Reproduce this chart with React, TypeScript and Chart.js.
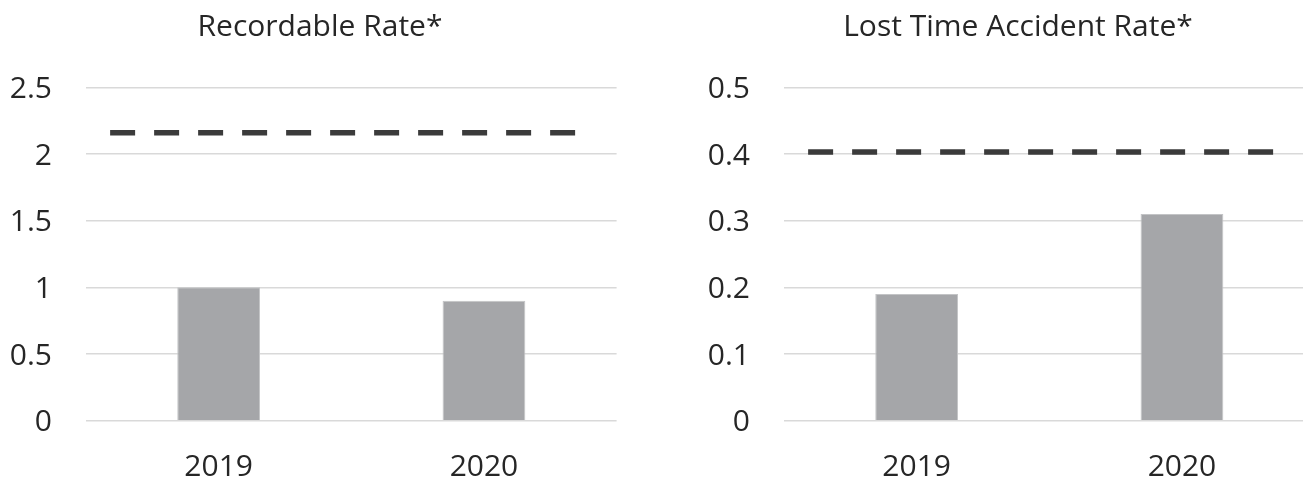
import React, { useEffect, useRef } from "react";
import { Chart, registerables } from "chart.js";

Chart.register(...registerables);

// ---- Data ----
const years = ["2019", "2020"];
const recordableRate = [1.0, 0.9];
const recordableTarget = [2.16, 2.16];
const recordableTicks = [0, 0.5, 1, 1.5, 2, 2.5];
const lostTimeRate = [0.19, 0.31];
const lostTimeTarget = [0.403, 0.403];
const lostTimeTicks = [0, 0.1, 0.2, 0.3, 0.4, 0.5];
const targetSpan = [0, 1]; // start and end of the target line across the plot

const FONT = { family: "'Open Sans', sans-serif", size: 30, weight: "normal" as const };
const TEXT = "#262626";
const CW = 640;
const CH = 490;
const PLOT_BOTTOM = 420.7;
const PLOT_LEFT = 86;
const RIGHT_GAP = 23.4;

type Props = {
  title: string;
  values: number[];
  target: number[];
  ticks: number[];
};

function RateChart({ title, values, target, ticks }: Props) {
  const ref = useRef<HTMLCanvasElement | null>(null);
  useEffect(() => {
    if (!ref.current) return;
    const min = ticks[0];
    const max = ticks[ticks.length - 1];
    const step = ticks[1] - ticks[0];
    const chart = new Chart(ref.current, {
      type: "bar",
      data: {
        labels: years,
        datasets: [
          {
            type: "line",
            data: targetSpan.map((x, i) => ({ x, y: target[i] })),
            xAxisID: "x2",
            yAxisID: "y",
            borderColor: "#3b3b3b",
            borderWidth: 5.5,
            borderDash: [25, 19],
            borderCapStyle: "butt",
            pointRadius: 0,
            fill: false,
            order: 0,
          } as any,
          {
            type: "bar",
            data: values,
            xAxisID: "x",
            yAxisID: "y",
            grouped: false,
            backgroundColor: "#a5a6a9",
            borderColor: "#c3c4c6",
            borderWidth: 1,
            barPercentage: 0.312,
            categoryPercentage: 1,
            order: 1,
          },
        ],
      },
      options: {
        responsive: false,
        animation: false,
        layout: { padding: 0 },
        plugins: {
          legend: { display: false },
          tooltip: { enabled: false },
          title: {
            display: true,
            text: title,
            color: TEXT,
            font: FONT,
            padding: { top: 9.7, bottom: 41.6 },
          },
        },
        scales: {
          x: {
            type: "category",
            offset: true,
            grid: { display: false, drawTicks: false },
            border: { display: false },
            ticks: { color: TEXT, font: FONT, padding: 29 },
            afterFit: (s: any) => {
              s.height = CH - PLOT_BOTTOM;
            },
          },
          x2: { type: "linear", display: false, min: targetSpan[0], max: targetSpan[1] },
          y: {
            position: "left",
            min,
            max,
            ticks: {
              stepSize: step,
              padding: 34,
              labelOffset: 2,
              color: TEXT,
              font: FONT,
              callback: (v: any) => String(Number(Number(v).toFixed(2))),
            },
            grid: { color: "#d9d9d9", lineWidth: 1.6, drawTicks: false },
            border: { display: false },
            afterFit: (s: any) => {
              s.width = PLOT_LEFT;
            },
          },
          yr: {
            position: "right",
            display: true,
            min,
            max,
            grid: { display: false, drawTicks: false },
            border: { display: false },
            ticks: { display: false },
            afterFit: (s: any) => {
              s.width = RIGHT_GAP;
            },
          },
        },
      } as any,
    });
    return () => chart.destroy();
  }, [title, values, target, ticks]);
  return <canvas ref={ref} width={CW} height={CH} style={{ display: "block", width: CW, height: CH }} />;
}

export default function App() {
  return (
    <div
      style={{
        position: "fixed",
        left: 0,
        top: 0,
        width: 1303,
        height: 477,
        overflow: "hidden",
        background: "#ffffff",
      }}
    >
      <div style={{ position: "absolute", left: 0, top: 0, width: CW, height: CH }}>
        <RateChart title="Recordable Rate*" values={recordableRate} target={recordableTarget} ticks={recordableTicks} />
      </div>
      <div style={{ position: "absolute", left: 698, top: 0, width: CW, height: CH }}>
        <RateChart title="Lost Time Accident Rate*" values={lostTimeRate} target={lostTimeTarget} ticks={lostTimeTicks} />
      </div>
    </div>
  );
}
